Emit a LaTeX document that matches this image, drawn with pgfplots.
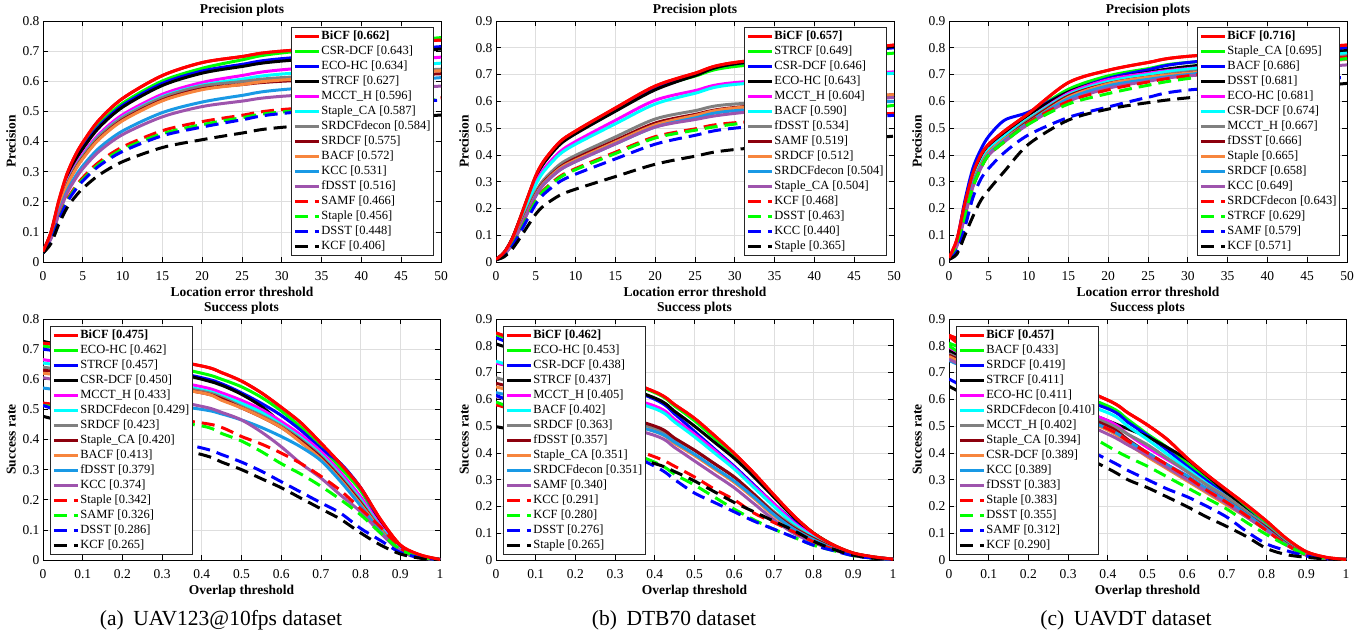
\documentclass[border=0pt]{standalone}
\usepackage{fontspec}
\setmainfont{Liberation Serif}
\usepackage{pgfplots}
\usepackage{pgfplotstable}
\pgfplotsset{compat=1.18}

\definecolor{c1}{rgb}{1,0,0}
\definecolor{c2}{rgb}{0,1,0}
\definecolor{c3}{rgb}{0,0,1}
\definecolor{c4}{rgb}{0,0,0}
\definecolor{c5}{rgb}{1,0,1}
\definecolor{c6}{rgb}{0,1,1}
\definecolor{c7}{rgb}{0.5,0.5,0.5}
\definecolor{c8}{rgb}{0.55,0,0.05}
\definecolor{c9}{rgb}{0.97,0.52,0.24}
\definecolor{c10}{rgb}{0.1,0.6,0.9}
\definecolor{c11}{rgb}{0.62,0.33,0.68}

% precision curves, columns in legend order (rank 1..15)
\pgfplotstableread[row sep=\\]{
x c1 c2 c3 c4 c5 c6 c7 c8 c9 c10 c11 c12 c13 c14 c15\\
0 .035 .035 .035 .035 .035 .035 .035 .035 .035 .035 .035 .03 .03 .03 .03\\
1 .099 .096 .095 .094 .089 .088 .088 .086 .086 .080 .077 .070 .068 .067 .061\\
2 .205 .199 .197 .194 .185 .182 .181 .178 .177 .165 .160 .144 .141 .139 .126\\
3 .291 .283 .279 .276 .262 .258 .257 .253 .252 .234 .227 .205 .201 .197 .179\\
4 .351 .341 .336 .332 .316 .311 .310 .305 .303 .281 .273 .247 .242 .237 .215\\
5 .397 .386 .380 .376 .358 .352 .350 .345 .343 .319 .310 .280 .274 .269 .244\\
7 .470 .457 .450 .445 .423 .417 .415 .408 .406 .377 .366 .331 .324 .318 .288\\
10 .543 .527 .520 .514 .489 .481 .479 .472 .469 .435 .423 .382 .374 .367 .333\\
15 .619 .601 .593 .586 .557 .549 .546 .538 .535 .496 .482 .436 .426 .419 .380\\
20 .662 .643 .634 .627 .596 .587 .584 .575 .572 .531 .516 .466 .456 .448 .406\\
25 .682 .671 .656 .649 .619 .607 .599 .589 .589 .553 .534 .487 .479 .472 .428\\
30 .700 .694 .675 .667 .638 .624 .612 .600 .604 .572 .550 .506 .498 .493 .447\\
50 .737 .745 .715 .707 .680 .660 .640 .625 .635 .612 .584 .545 .540 .538 .488\\
}\tPa

\pgfplotstableread[row sep=\\]{
x c1 c2 c3 c4 c5 c6 c7 c8 c9 c10 c11 c12 c13 c14 c15\\
0 .010 .010 .010 .010 .010 .010 .010 .010 .010 .010 .010 .008 .008 .008 .008\\
1 .035 .034 .034 .034 .032 .031 .028 .028 .027 .027 .027 .025 .025 .023 .019\\
2 .085 .084 .084 .084 .079 .077 .069 .067 .067 .066 .066 .061 .060 .057 .047\\
3 .161 .159 .158 .158 .148 .145 .131 .127 .125 .123 .123 .115 .113 .108 .089\\
4 .243 .240 .239 .238 .223 .218 .198 .192 .189 .186 .186 .173 .171 .163 .135\\
5 .322 .318 .317 .315 .296 .289 .262 .254 .251 .247 .247 .229 .227 .216 .179\\
6 .377 .372 .370 .369 .347 .338 .307 .298 .294 .290 .290 .269 .266 .253 .210\\
8 .448 .442 .440 .438 .411 .402 .364 .353 .349 .343 .343 .319 .315 .300 .249\\
10 .489 .484 .481 .479 .450 .440 .398 .387 .381 .375 .375 .349 .345 .328 .272\\
15 .575 .568 .565 .563 .529 .516 .467 .454 .448 .441 .441 .410 .405 .385 .319\\
20 .657 .649 .646 .643 .604 .590 .534 .519 .512 .504 .504 .468 .463 .440 .365\\
25 .705 .694 .698 .696 .640 .630 .565 .551 .547 .538 .532 .497 .492 .473 .395\\
30 .745 .730 .740 .740 .670 .663 .590 .577 .575 .565 .555 .520 .515 .500 .420\\
50 .810 .780 .800 .805 .710 .705 .615 .625 .625 .600 .615 .555 .585 .548 .470\\
}\tPb

\pgfplotstableread[row sep=\\]{
x c1 c2 c3 c4 c5 c6 c7 c8 c9 c10 c11 c12 c13 c14 c15\\
0 .015 .01 .01 .01 .01 .01 .01 .01 .01 .01 .01 .01 .01 .01 .01\\
1 .085 .07 .08 .07 .07 .07 .065 .065 .065 .065 .06 .06 .06 .04 .03\\
2 .22 .20 .23 .20 .19 .19 .18 .18 .18 .18 .17 .17 .17 .13 .10\\
3 .33 .31 .35 .31 .30 .30 .29 .29 .29 .29 .28 .28 .28 .24 .17\\
4 .40 .38 .42 .38 .37 .37 .36 .36 .36 .355 .35 .35 .35 .31 .23\\
5 .44 .43 .47 .43 .42 .42 .41 .41 .41 .405 .40 .40 .40 .35 .27\\
7 .49 .48 .53 .48 .47 .47 .46 .46 .46 .455 .45 .45 .45 .41 .34\\
10 .555 .55 .56 .55 .535 .535 .53 .525 .52 .52 .515 .52 .515 .475 .44\\
15 .67 .645 .635 .635 .63 .625 .62 .62 .615 .61 .60 .60 .59 .54 .53\\
20 .716 .695 .686 .681 .681 .674 .667 .666 .665 .658 .649 .643 .629 .579 .571\\
25 .745 .722 .718 .708 .705 .70 .69 .69 .69 .682 .675 .672 .66 .615 .595\\
30 .768 .745 .745 .730 .722 .72 .71 .705 .705 .70 .695 .695 .685 .642 .613\\
50 .81 .78 .80 .79 .775 .78 .77 .765 .757 .76 .736 .765 .76 .69 .667\\
}\tPc

% success curves
\pgfplotstableread[row sep=\\]{
x c1 c2 c3 c4 c5 c6 c7 c8 c9 c10 c11 c12 c13 c14 c15\\
0 .72 .71 .70 .726 .665 .654 .64 .63 .62 .571 .605 .521 .513 .513 .477\\
.2 .69 .675 .66 .665 .625 .615 .605 .60 .59 .535 .56 .49 .48 .43 .41\\
.4 .644 .62 .605 .60 .575 .565 .56 .555 .555 .50 .51 .455 .445 .372 .35\\
.45 .622 .60 .585 .58 .555 .545 .54 .535 .53 .485 .49 .44 .42 .35 .325\\
.5 .594 .575 .555 .55 .53 .52 .51 .505 .505 .465 .465 .41 .395 .325 .30\\
.55 .555 .54 .52 .51 .50 .49 .48 .475 .475 .44 .425 .385 .36 .295 .27\\
.6 .507 .495 .48 .455 .46 .45 .445 .44 .44 .41 .376 .355 .32 .26 .24\\
.65 .455 .44 .43 .40 .415 .405 .40 .395 .39 .375 .32 .32 .285 .225 .205\\
.7 .388 .375 .37 .335 .36 .35 .345 .34 .335 .33 .272 .278 .245 .19 .17\\
.75 .318 .305 .32 .27 .29 .28 .275 .27 .265 .26 .215 .23 .20 .155 .135\\
.8 .24 .23 .24 .205 .21 .20 .195 .19 .185 .18 .16 .17 .15 .105 .09\\
.85 .135 .125 .13 .12 .115 .11 .105 .10 .10 .095 .09 .11 .09 .065 .05\\
.9 .05 .045 .04 .04 .035 .033 .032 .03 .03 .03 .03 .04 .035 .025 .02\\
.95 .017 .014 .012 .012 .01 .01 .01 .009 .009 .008 .008 .01 .01 .008 .006\\
1 .002 .002 .002 .002 .001 .001 .001 .001 .001 .001 .001 .001 .001 .001 .001\\
}\tSa

\pgfplotstableread[row sep=\\]{
x c1 c2 c3 c4 c5 c6 c7 c8 c9 c10 c11 c12 c13 c14 c15\\
0 .848 .842 .83 .807 .736 .742 .681 .66 .647 .625 .61 .58 .59 .615 .498\\
.2 .74 .735 .715 .71 .66 .655 .59 .585 .565 .56 .545 .49 .48 .49 .44\\
.4 .628 .625 .60 .605 .575 .565 .49 .50 .48 .48 .465 .385 .365 .35 .36\\
.45 .58 .575 .545 .555 .525 .515 .45 .455 .435 .44 .42 .35 .32 .30 .33\\
.5 .529 .52 .48 .50 .47 .46 .41 .41 .39 .395 .37 .31 .28 .25 .295\\
.55 .465 .455 .415 .44 .41 .40 .36 .36 .34 .345 .32 .265 .235 .215 .255\\
.6 .398 .39 .35 .38 .345 .34 .31 .31 .29 .295 .27 .225 .19 .18 .215\\
.65 .324 .315 .28 .31 .275 .27 .245 .245 .23 .235 .21 .175 .15 .145 .18\\
.7 .243 .235 .21 .235 .21 .20 .18 .175 .165 .17 .15 .14 .115 .115 .145\\
.75 .165 .16 .145 .16 .14 .135 .125 .12 .115 .115 .10 .105 .085 .085 .11\\
.8 .10 .10 .095 .10 .09 .085 .08 .08 .075 .075 .065 .068 .055 .055 .07\\
.85 .056 .055 .052 .054 .05 .048 .045 .045 .042 .042 .038 .04 .035 .035 .04\\
.9 .026 .025 .024 .025 .022 .021 .02 .02 .019 .019 .017 .02 .016 .016 .018\\
.95 .012 .011 .01 .011 .01 .01 .009 .009 .008 .008 .007 .008 .007 .007 .007\\
1 .003 .003 .003 .003 .003 .003 .002 .002 .002 .002 .002 .002 .002 .002 .002\\
}\tSb

\pgfplotstableread[row sep=\\]{
x c1 c2 c3 c4 c5 c6 c7 c8 c9 c10 c11 c12 c13 c14 c15\\
0 .839 .81 .77 .782 .794 .754 .77 .765 .76 .745 .75 .835 .80 .676 .649\\
.2 .72 .69 .665 .64 .64 .65 .63 .625 .615 .615 .605 .62 .60 .52 .49\\
.4 .597 .575 .565 .52 .52 .55 .51 .50 .485 .49 .47 .49 .425 .375 .342\\
.45 .55 .525 .515 .49 .47 .50 .47 .45 .435 .445 .43 .445 .385 .335 .30\\
.5 .504 .47 .465 .46 .42 .45 .43 .40 .385 .40 .39 .40 .35 .30 .27\\
.55 .45 .42 .41 .42 .375 .395 .38 .355 .34 .355 .345 .355 .31 .265 .235\\
.6 .38 .36 .35 .375 .33 .34 .33 .31 .295 .315 .30 .31 .27 .236 .199\\
.65 .318 .305 .295 .315 .28 .285 .28 .265 .25 .265 .255 .26 .23 .20 .16\\
.7 .261 .25 .24 .25 .23 .235 .235 .22 .205 .22 .21 .215 .19 .16 .125\\
.75 .205 .195 .185 .185 .175 .18 .18 .17 .16 .17 .16 .165 .14 .106 .087\\
.8 .145 .135 .125 .12 .12 .125 .125 .12 .11 .115 .11 .11 .095 .06 .043\\
.85 .08 .07 .065 .062 .06 .065 .063 .06 .057 .058 .056 .057 .055 .035 .02\\
.9 .031 .025 .022 .02 .02 .021 .021 .02 .019 .019 .018 .019 .02 .015 .01\\
.95 .01 .008 .007 .006 .006 .006 .006 .006 .006 .006 .006 .006 .006 .005 .004\\
1 .002 .002 .002 .002 .002 .002 .002 .002 .002 .002 .002 .002 .002 .001 .001\\
}\tSc

\pgfplotsset{
  cv/.style={line width=3pt, smooth, mark=none},
  sol/.style={cv, solid},
  dsh/.style={cv, dash pattern=on 13pt off 7pt},
  tr1/.style={sol, c1}, tr2/.style={sol, c2}, tr3/.style={sol, c3},
  tr4/.style={sol, c4}, tr5/.style={sol, c5}, tr6/.style={sol, c6},
  tr7/.style={sol, c7}, tr8/.style={sol, c8}, tr9/.style={sol, c9},
  tr10/.style={sol, c10}, tr11/.style={sol, c11},
  tr12/.style={dsh, c1}, tr13/.style={dsh, c2}, tr14/.style={dsh, c3},
  tr15/.style={dsh, c4},
  myax/.style={
    scale only axis, anchor=south west, height=241pt, xmin=0, ymin=0,
    grid=major, major grid style={line width=0.7pt, black!13},
    axis line style={line width=0.7pt},
    every tick/.style={black, line width=0.7pt}, major tick length=5pt,
    tick label style={font=\fontsize{13.5}{14}\selectfont},
    xticklabel style={yshift=-6pt},
    /pgf/number format/assume math mode=true,
    label style={font=\bfseries\fontsize{13.5}{15}\selectfont},
    title style={font=\bfseries\fontsize{13.5}{15}\selectfont, yshift=-5pt},
    legend cell align=left,
    legend style={font=\fontsize{12.5}{14}\selectfont, draw=black!85,
      line width=0.7pt, fill=white, inner sep=2pt, row sep=1pt,
      nodes={inner sep=1pt, text height=9pt, text depth=3pt}},
    legend image code/.code={\draw[##1] (0pt,0pt) -- (24pt,0pt);},
  },
  prec/.style={myax, width=398pt, xmax=50, xtick={0,5,10,15,20,25,30,35,40,45,50},
    title={Precision plots}, xlabel={Location error threshold}, ylabel={Precision},
    legend style={at={(0.982,0.975)}, anchor=north east}},
  succ/.style={myax, width=397pt, xmax=1,
    xtick={0,0.1,0.2,0.3,0.4,0.5,0.6,0.7,0.8,0.9,1},
    title={Success plots}, xlabel={Overlap threshold}, ylabel={Success rate},
    legend style={at={(0.0176,0.971)}, anchor=north west}},
}

\newcommand\drawcurves[1]{%
  \addplot[tr1] table[x=x,y=c1]{#1};
  \addplot[tr2] table[x=x,y=c2]{#1};
  \addplot[tr3] table[x=x,y=c3]{#1};
  \addplot[tr4] table[x=x,y=c4]{#1};
  \addplot[tr5] table[x=x,y=c5]{#1};
  \addplot[tr6] table[x=x,y=c6]{#1};
  \addplot[tr7] table[x=x,y=c7]{#1};
  \addplot[tr8] table[x=x,y=c8]{#1};
  \addplot[tr9] table[x=x,y=c9]{#1};
  \addplot[tr10] table[x=x,y=c10]{#1};
  \addplot[tr11] table[x=x,y=c11]{#1};
  \addplot[tr12] table[x=x,y=c12]{#1};
  \addplot[tr13] table[x=x,y=c13]{#1};
  \addplot[tr14] table[x=x,y=c14]{#1};
  \addplot[tr15] table[x=x,y=c15]{#1};
  \addplot[tr1, forget plot] table[x=x,y=c1]{#1};
}

\begin{document}
\begin{tikzpicture}
\useasboundingbox (0pt,0pt) rectangle (1372pt,635pt);

\begin{axis}[prec, at={(43pt,373pt)}, ymax=0.8,
  ytick={0,0.1,0.2,0.3,0.4,0.5,0.6,0.7,0.8},
  legend entries={\textbf{BiCF [0.662]},CSR-DCF [0.643],ECO-HC [0.634],STRCF [0.627],MCCT\_H [0.596],Staple\_CA [0.587],SRDCFdecon [0.584],SRDCF [0.575],BACF [0.572],KCC [0.531],fDSST [0.516],SAMF [0.466],Staple [0.456],DSST [0.448],KCF [0.406]}]
\drawcurves{\tPa}
\end{axis}

\begin{axis}[prec, at={(496pt,373pt)}, ymax=0.9,
  ytick={0,0.1,0.2,0.3,0.4,0.5,0.6,0.7,0.8,0.9},
  legend entries={\textbf{BiCF [0.657]},STRCF [0.649],CSR-DCF [0.646],ECO-HC [0.643],MCCT\_H [0.604],BACF [0.590],fDSST [0.534],SAMF [0.519],SRDCF [0.512],SRDCFdecon [0.504],Staple\_CA [0.504],KCF [0.468],DSST [0.463],KCC [0.440],Staple [0.365]}]
\drawcurves{\tPb}
\end{axis}

\begin{axis}[prec, at={(949pt,373pt)}, ymax=0.9,
  ytick={0,0.1,0.2,0.3,0.4,0.5,0.6,0.7,0.8,0.9},
  legend entries={\textbf{BiCF [0.716]},Staple\_CA [0.695],BACF [0.686],DSST [0.681],ECO-HC [0.681],CSR-DCF [0.674],MCCT\_H [0.667],fDSST [0.666],Staple [0.665],SRDCF [0.658],KCC [0.649],SRDCFdecon [0.643],STRCF [0.629],SAMF [0.579],KCF [0.571]}]
\drawcurves{\tPc}
\end{axis}

\begin{axis}[succ, at={(43pt,75pt)}, ymax=0.8,
  ytick={0,0.1,0.2,0.3,0.4,0.5,0.6,0.7,0.8},
  legend entries={\textbf{BiCF [0.475]},ECO-HC [0.462],STRCF [0.457],CSR-DCF [0.450],MCCT\_H [0.433],SRDCFdecon [0.429],SRDCF [0.423],Staple\_CA [0.420],BACF [0.413],fDSST [0.379],KCC [0.374],Staple [0.342],SAMF [0.326],DSST [0.286],KCF [0.265]}]
\drawcurves{\tSa}
\end{axis}

\begin{axis}[succ, at={(496pt,75pt)}, ymax=0.9,
  ytick={0,0.1,0.2,0.3,0.4,0.5,0.6,0.7,0.8,0.9},
  legend entries={\textbf{BiCF [0.462]},ECO-HC [0.453],CSR-DCF [0.438],STRCF [0.437],MCCT\_H [0.405],BACF [0.402],SRDCF [0.363],fDSST [0.357],Staple\_CA [0.351],SRDCFdecon [0.351],SAMF [0.340],KCC [0.291],KCF [0.280],DSST [0.276],Staple [0.265]}]
\drawcurves{\tSb}
\end{axis}

\begin{axis}[succ, at={(949pt,75pt)}, ymax=0.9,
  ytick={0,0.1,0.2,0.3,0.4,0.5,0.6,0.7,0.8,0.9},
  legend entries={\textbf{BiCF [0.457]},BACF [0.433],SRDCF [0.419],STRCF [0.411],ECO-HC [0.411],SRDCFdecon [0.410],MCCT\_H [0.402],Staple\_CA [0.394],CSR-DCF [0.389],KCC [0.389],fDSST [0.383],Staple [0.383],DSST [0.355],SAMF [0.312],KCF [0.290]}]
\drawcurves{\tSc}
\end{axis}

\node[anchor=base, font=\fontsize{21.5}{23}\selectfont] at (221pt,10pt) {(a)\hspace{0.45em}UAV123@10fps dataset};
\node[anchor=base, font=\fontsize{21.5}{23}\selectfont] at (674pt,10pt) {(b)\hspace{0.45em}DTB70 dataset};
\node[anchor=base, font=\fontsize{21.5}{23}\selectfont] at (1126pt,10pt) {(c)\hspace{0.45em}UAVDT dataset};
\end{tikzpicture}
\end{document}
